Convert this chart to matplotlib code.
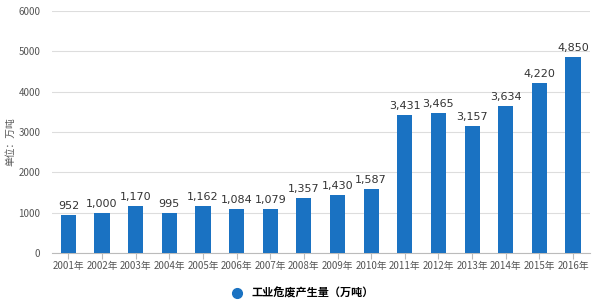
import matplotlib
matplotlib.use("Agg")
import matplotlib.pyplot as plt

plt.rcParams['font.family'] = ['Noto Sans CJK SC', 'DejaVu Sans']

years = ["2001年", "2002年", "2003年", "2004年", "2005年", "2006年", "2007年", "2008年",
         "2009年", "2010年", "2011年", "2012年", "2013年", "2014年", "2015年", "2016年"]
values = [952, 1000, 1170, 995, 1162, 1084, 1079, 1357, 1430, 1587,
          3431, 3465, 3157, 3634, 4220, 4850]
series_name = "工业危废产生量（万吨）"
yticks = [0, 1000, 2000, 3000, 4000, 5000, 6000]

fig = plt.figure(figsize=(6, 3.07), dpi=100)
ax = fig.add_axes([0.086, 0.176, 0.897, 0.788])
color = "#1a72c2"
x = list(range(len(years)))
bars = ax.bar(x, values, width=0.45, color=color, zorder=3, label=series_name)
for xi, v in zip(x, values):
    ax.text(xi, v + 100, f"{v:,}", ha="center", va="bottom", fontsize=8,
            color="#333333", family="DejaVu Sans")

ax.set_xlim(-0.5, len(years) - 0.5)
ax.set_ylim(0, 6000)
ax.set_yticks(yticks)
ax.set_yticklabels([str(t) for t in yticks], fontsize=7, color="#555555")
ax.set_xticks(x)
ax.set_xticklabels(years, fontsize=7, color="#555555")
ax.grid(axis="y", color="#dddddd", linewidth=0.8, zorder=0)
for s in ["top", "right", "left"]:
    ax.spines[s].set_visible(False)
ax.spines["bottom"].set_color("#bbbbbb")
ax.tick_params(axis="y", length=0, pad=8)
ax.tick_params(axis="x", length=4, color="#bbbbbb", pad=2)

fig.text(0.018, 0.54, "单位：万吨", rotation=90, fontsize=7, color="#555555",
         ha="center", va="center")

fig.legend(handles=[plt.Line2D([], [], marker="o", linestyle="", color=color, markersize=7)],
           labels=[series_name], loc="center", bbox_to_anchor=(0.5, 0.045),
           frameon=False, handletextpad=0.3, prop={'weight': 'bold', 'size': 8})

fig.savefig("out.png", dpi=100)
